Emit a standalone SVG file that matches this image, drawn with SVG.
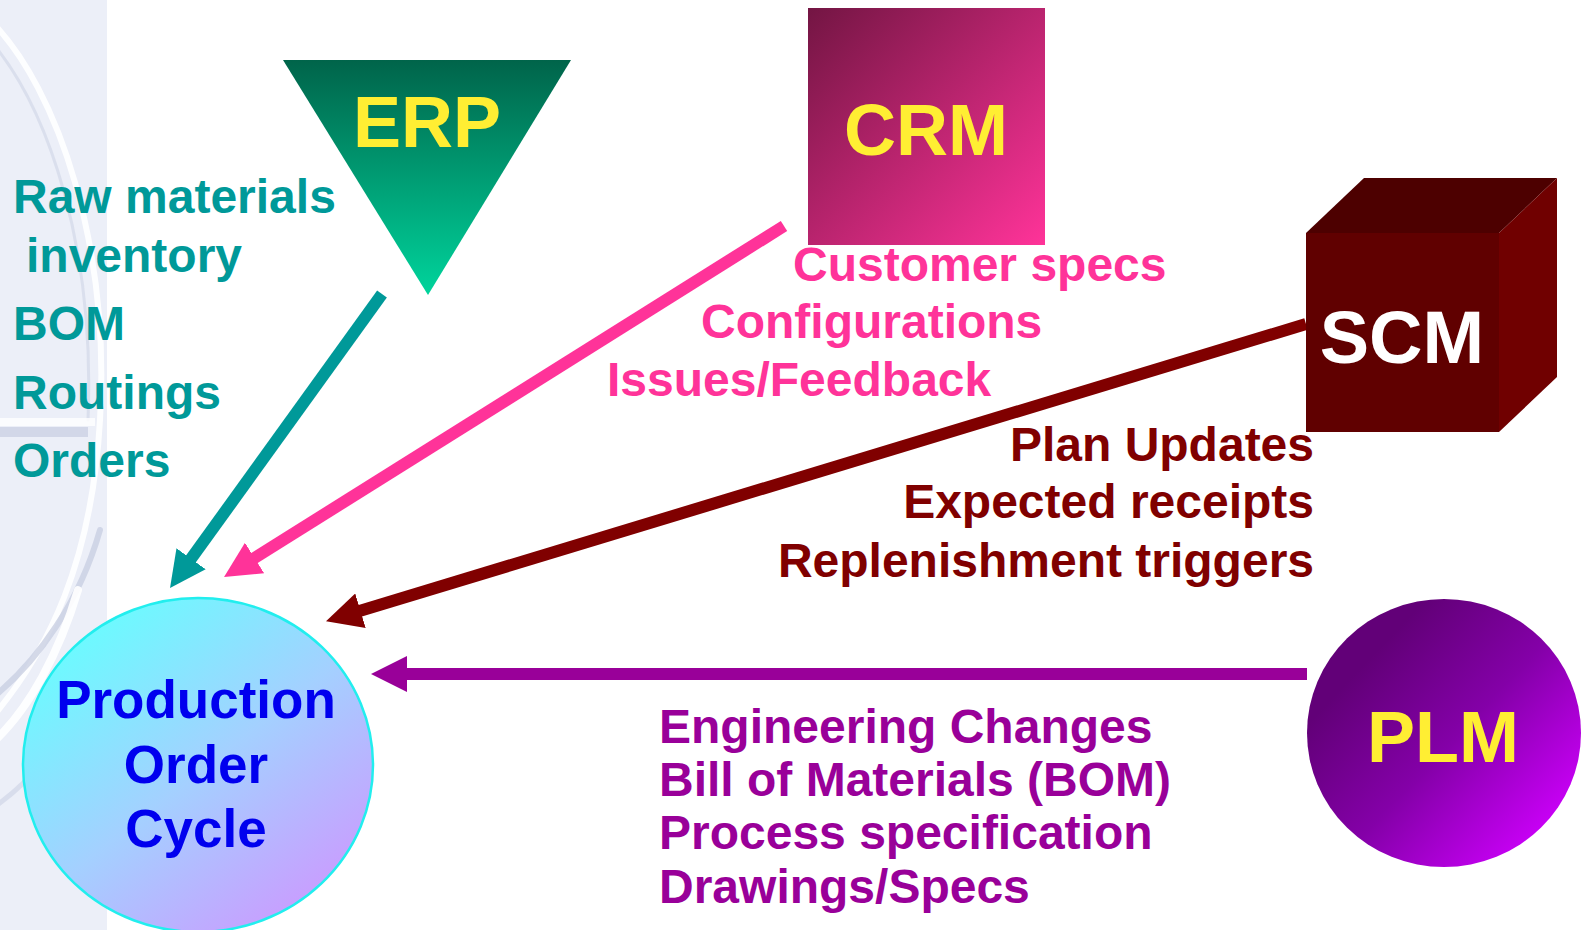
<svg xmlns="http://www.w3.org/2000/svg" width="1587" height="930" viewBox="0 0 1587 930">
  <style>
    .t { font-family: "Liberation Sans", Arial, "Helvetica", sans-serif; font-weight: bold; }
    .erp-l { fill: #009999; font-size: 48px; }
    .crm-l { fill: #ff3399; font-size: 48px; }
    .scm-l { fill: #800000; font-size: 48px; text-anchor: end; }
    .plm-l { fill: #990099; font-size: 48px; }
    .node-t { font-size: 72px; text-anchor: middle; }
    .poc-t { fill: #0000ee; font-size: 53px; text-anchor: middle; }
    .conn { fill: none; stroke-width: 12; stroke-linecap: butt; }
    .bgarc { fill: none; stroke-linecap: round; }
  </style>
  <defs>
    <linearGradient id="erpGrad" x1="0" y1="0" x2="0" y2="1">
      <stop offset="0" stop-color="#00644a"/>
      <stop offset="1" stop-color="#00d49c"/>
    </linearGradient>
    <linearGradient id="crmGrad" x1="0" y1="0" x2="1" y2="1">
      <stop offset="0" stop-color="#731543"/>
      <stop offset="1" stop-color="#ff3399"/>
    </linearGradient>
    <linearGradient id="pocGrad" x1="0.15" y1="0.1" x2="0.85" y2="0.95">
      <stop offset="0" stop-color="#6afcff"/>
      <stop offset="0.5" stop-color="#a4d0ff"/>
      <stop offset="1" stop-color="#cc99ff"/>
    </linearGradient>
    <linearGradient id="plmGrad" x1="0.25" y1="0.2" x2="0.95" y2="0.85">
      <stop offset="0" stop-color="#620078"/>
      <stop offset="0.45" stop-color="#8400a8"/>
      <stop offset="1" stop-color="#d000ff"/>
    </linearGradient>
    <clipPath id="panelClip"><rect x="0" y="0" width="107" height="930"/></clipPath>
    <marker id="ahTeal" viewBox="0 0 36 36" refX="1" refY="18" markerWidth="36" markerHeight="36" markerUnits="userSpaceOnUse" orient="auto"><path d="M0,0 L36,18 L0,36 Z" fill="#009999"/></marker>
    <marker id="ahPink" viewBox="0 0 36 36" refX="1" refY="18" markerWidth="36" markerHeight="36" markerUnits="userSpaceOnUse" orient="auto"><path d="M0,0 L36,18 L0,36 Z" fill="#ff3399"/></marker>
    <marker id="ahRed" viewBox="0 0 36 36" refX="1" refY="18" markerWidth="36" markerHeight="36" markerUnits="userSpaceOnUse" orient="auto"><path d="M0,0 L36,18 L0,36 Z" fill="#800000"/></marker>
    <marker id="ahPurple" viewBox="0 0 36 36" refX="1" refY="18" markerWidth="36" markerHeight="36" markerUnits="userSpaceOnUse" orient="auto"><path d="M0,0 L36,18 L0,36 Z" fill="#990099"/></marker>
  </defs>

  <rect x="0" y="0" width="1587" height="930" fill="#ffffff"/>

  <!-- background side panel -->
  <g id="background-panel" clip-path="url(#panelClip)">
    <rect x="0" y="0" width="107" height="930" fill="#eceff8"/>
    <path class="bgarc" d="M-10,20 C60,90 110,250 100,420 C92,560 50,650 -10,720" stroke="#ffffff" stroke-width="6" opacity="0.9"/>
    <path class="bgarc" d="M-10,40 C50,110 95,250 88,420" stroke="#d6dbea" stroke-width="3" opacity="0.8"/>
    <path class="bgarc" d="M100,530 C80,600 40,660 -10,700" stroke="#c9cfe2" stroke-width="6" opacity="0.8"/>
    <path class="bgarc" d="M78,590 C60,650 30,710 -10,745" stroke="#ffffff" stroke-width="8" opacity="0.9"/>
    <path class="bgarc" d="M105,640 C90,700 50,770 -10,810" stroke="#d3d8e8" stroke-width="5" opacity="0.8"/>
    <rect x="0" y="427" width="88" height="10" fill="#cfd4e6" opacity="0.9"/>
    <rect x="0" y="418" width="95" height="8" fill="#ffffff" opacity="0.8"/>
  </g>

  <!-- connectors -->
  <g id="connectors">
    <path class="conn" d="M382,294 L190.5,559.6" stroke="#009999" marker-end="url(#ahTeal)"/>
    <path class="conn" d="M784,226 L253.7,558.5" stroke="#ff3399" marker-end="url(#ahPink)"/>
    <path class="conn" d="M1306,324 L359.5,611" stroke="#800000" marker-end="url(#ahRed)"/>
    <path class="conn" d="M1307,674 L406,674" stroke="#990099" marker-end="url(#ahPurple)"/>
  </g>

  <!-- ERP -->
  <g id="node-erp">
    <polygon points="283,60 571,60 428,295" fill="url(#erpGrad)"/>
    <text class="t node-t" x="427" y="147" fill="#ffee33">ERP</text>
  </g>
  <g id="erp-labels" class="t erp-l">
    <text x="13" y="213">Raw materials</text>
    <text x="26" y="272">inventory</text>
    <text x="13" y="340">BOM</text>
    <text x="13" y="409">Routings</text>
    <text x="13" y="477">Orders</text>
  </g>

  <!-- CRM -->
  <g id="node-crm">
    <rect x="808" y="8" width="237" height="237" fill="url(#crmGrad)"/>
    <text class="t node-t" x="926" y="155" fill="#ffee33">CRM</text>
  </g>
  <g id="crm-labels" class="t crm-l">
    <text x="793" y="281">Customer specs</text>
    <text x="701" y="338">Configurations</text>
    <text x="607" y="396">Issues/Feedback</text>
  </g>

  <!-- SCM -->
  <g id="node-scm">
    <polygon points="1306,233 1364,178 1557,178 1499,233" fill="#4d0000"/>
    <polygon points="1499,233 1557,178 1557,377 1499,432" fill="#700000"/>
    <rect x="1306" y="233" width="193" height="199" fill="#600000"/>
    <text class="t node-t" x="1402" y="363" fill="#ffffff" style="font-size:74px">SCM</text>
  </g>
  <g id="scm-labels" class="t scm-l">
    <text x="1314" y="461">Plan Updates</text>
    <text x="1314" y="518">Expected receipts</text>
    <text x="1314" y="577">Replenishment triggers</text>
  </g>

  <!-- PLM -->
  <g id="node-plm">
    <ellipse cx="1444" cy="733" rx="137" ry="134" fill="url(#plmGrad)"/>
    <text class="t node-t" x="1443" y="762" fill="#ffee33">PLM</text>
  </g>
  <g id="plm-labels" class="t plm-l">
    <text x="659" y="743">Engineering Changes</text>
    <text x="659" y="796">Bill of Materials (BOM)</text>
    <text x="659" y="849">Process specification</text>
    <text x="659" y="903">Drawings/Specs</text>
  </g>

  <!-- Production Order Cycle -->
  <g id="node-poc">
    <ellipse cx="198" cy="765" rx="175" ry="167" fill="url(#pocGrad)" stroke="#22eeee" stroke-width="2.5"/>
    <text class="t poc-t" x="196" y="718">Production</text>
    <text class="t poc-t" x="196" y="783">Order</text>
    <text class="t poc-t" x="196" y="847">Cycle</text>
  </g>
</svg>
